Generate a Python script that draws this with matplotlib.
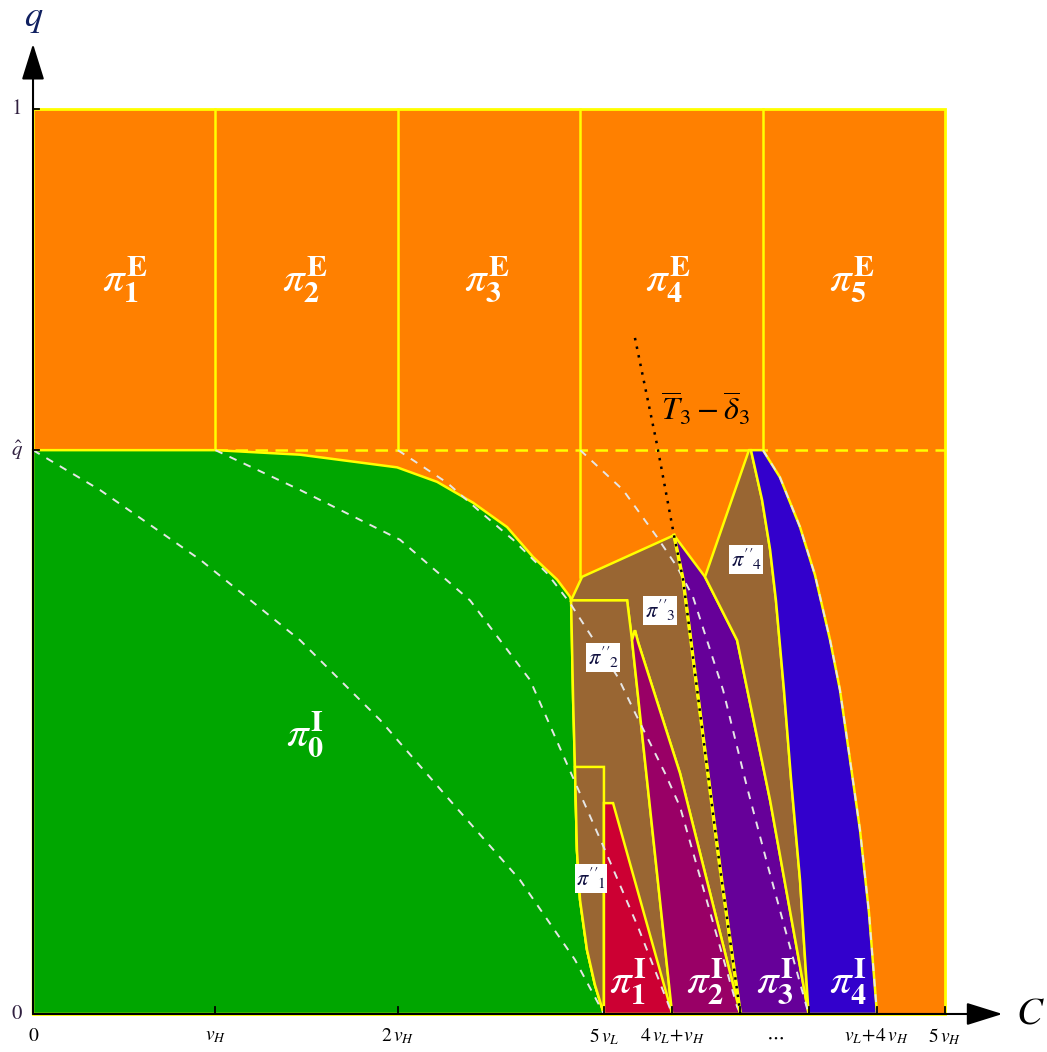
import numpy as np
import matplotlib.pyplot as plt
from matplotlib.patches import Polygon

plt.rcParams['mathtext.fontset'] = 'stix'
plt.rcParams['font.family'] = 'STIXGeneral'

# model parameters (vH = 1)
v_H = 1.0
v_L = 0.626
q_hat = 0.623

# axis ticks
x_ticks = [0, 1, 2, 3.13, 3.504, 3.878, 4.252, 4.626, 5]
x_tick_labels = ['0', r'$v_H$', r'$2\,v_H$', r'$5\,v_L$', r'$4\,v_L\!+\!v_H$', '', '', r'$v_L\!+\!4\,v_H$', r'$5\,v_H$']
y_ticks = [0, q_hat, 1]
y_tick_labels = ['0', r'$\hat{q}$', '1']

# region boundaries, (C, q) pairs
green_region = [(0, 0), (0, q_hat), (1.0, q_hat), (1.464, 0.618), (1.996, 0.604),
                (2.215, 0.588), (2.412, 0.565), (2.599, 0.538), (2.741, 0.505),
                (2.873, 0.480), (2.944, 0.461), (2.950, 0.457), (2.961, 0.347),
                (2.971, 0.273), (2.982, 0.181), (2.999, 0.126), (3.037, 0.071),
                (3.081, 0.032), (3.13, 0)]
pp3_region = [(2.950, 0.457), (3.01, 0.483), (3.514, 0.529), (3.564, 0.480),
              (3.657, 0.333), (3.766, 0.162), (3.878, 0), (3.547, 0.266),
              (3.317, 0.411), (3.30, 0.424), (3.284, 0.413), (3.257, 0.457)]
pp2_region = [(2.950, 0.457), (3.257, 0.457), (3.284, 0.413), (3.504, 0),
              (3.13, 0), (3.081, 0.032), (3.037, 0.071), (2.999, 0.126),
              (2.982, 0.181), (2.971, 0.273), (2.961, 0.347)]
pp1_region = [(2.971, 0.273), (3.13, 0.273), (3.13, 0), (3.081, 0.032),
              (3.037, 0.071), (2.999, 0.126), (2.982, 0.181)]
i1_region = [(3.13, 0), (3.13, 0.233), (3.18, 0.233), (3.504, 0)]
i2_region = [(3.284, 0.413), (3.30, 0.424), (3.317, 0.411), (3.547, 0.266),
             (3.878, 0), (3.504, 0)]
i3_region = [(3.514, 0.529), (3.684, 0.483), (3.860, 0.413), (4.041, 0.236),
             (4.252, 0), (3.878, 0), (3.766, 0.162), (3.657, 0.333), (3.564, 0.480)]
pp4_region = [(3.684, 0.483), (3.925, q_hat), (3.936, q_hat), (3.997, 0.568),
              (4.041, 0.513), (4.073, 0.457), (4.117, 0.358), (4.156, 0.259),
              (4.205, 0.148), (4.252, 0), (4.041, 0.236), (3.860, 0.413)]
i4_region = [(3.936, q_hat), (4.002, q_hat), (4.095, 0.593), (4.205, 0.538),
             (4.287, 0.485), (4.370, 0.413), (4.424, 0.358), (4.479, 0.281),
             (4.534, 0.203), (4.583, 0.112), (4.627, 0), (4.252, 0), (4.205, 0.148),
             (4.156, 0.259), (4.117, 0.358), (4.073, 0.457), (4.041, 0.513),
             (3.997, 0.568)]

# threshold curves starting at (k vH, q_hat)
iso_0 = [(0, q_hat), (0.367, 0.579), (0.916, 0.502), (1.464, 0.413), (1.902, 0.325),
         (2.286, 0.236), (2.670, 0.148), (2.971, 0.060), (3.13, 0)]
iso_1 = [(1, q_hat), (1.464, 0.579), (2.012, 0.524), (2.396, 0.457), (2.725, 0.369),
         (2.917, 0.281), (3.136, 0.181), (3.317, 0.096), (3.504, 0)]
iso_2 = [(2, q_hat), (2.083, 0.612), (2.27, 0.587), (2.451, 0.555), (2.632, 0.524),
         (2.818, 0.487), (2.944, 0.454), (3.207, 0.372), (3.30, 0.333),
         (3.465, 0.266), (3.547, 0.229), (3.86, 0.008), (3.878, 0)]
iso_3 = [(3, q_hat), (3.235, 0.579), (3.421, 0.527), (3.531, 0.494), (3.618, 0.461),
         (3.783, 0.358), (3.914, 0.251), (4.024, 0.167), (4.150, 0.074), (4.252, 0)]
iso_4 = [(4.002, q_hat), (4.095, 0.593), (4.205, 0.538), (4.287, 0.485),
         (4.370, 0.413), (4.424, 0.358), (4.479, 0.281), (4.534, 0.203),
         (4.583, 0.112), (4.627, 0)]

# T3 - delta3 line
t3_line = [(3.30, 0.747), (3.421, 0.629), (3.514, 0.529), (3.564, 0.480),
           (3.657, 0.333), (3.766, 0.162), (3.878, 0)]

ORANGE = '#FF8000'
GREEN = '#00A600'
BROWN = '#996633'
RED = '#CC0033'
MAGENTA = '#990066'
PURPLE = '#660099'
BLUE = '#3300CC'
YELLOW = '#FFFF00'
DASH = '#E6E6E6'

fig = plt.figure(figsize=(10.47, 10.52), dpi=100)
ax = fig.add_axes([0, 0, 1, 1])
ax.set_xlim(-0.181, 5.559)
ax.set_ylim(-0.042, 1.1204)
ax.axis('off')

ax.add_patch(Polygon([(0, 0), (0, 1), (5, 1), (5, 0)], closed=True,
                     facecolor=ORANGE, edgecolor=YELLOW, lw=2, zorder=1))
for xv in [1, 2, 4]:
    ax.plot([xv, xv], [q_hat, 1], color=YELLOW, lw=1.8, zorder=2)
ax.plot([3, 3], [0.483, 1], color=YELLOW, lw=1.8, zorder=2)
ax.plot([1, 5], [q_hat, q_hat], color=YELLOW, lw=1.8, ls=(0, (5, 3)), zorder=2)

regions = [(green_region, GREEN), (pp3_region, BROWN), (pp2_region, BROWN),
           (pp1_region, BROWN), (i1_region, RED), (i2_region, MAGENTA),
           (i3_region, PURPLE), (pp4_region, BROWN), (i4_region, BLUE)]
for pts, col in regions:
    ax.add_patch(Polygon(pts, closed=True, facecolor=col, edgecolor=YELLOW,
                         lw=1.8, joinstyle='miter', zorder=3))

for curve in [iso_0, iso_1, iso_2, iso_3, iso_4]:
    c = np.array(curve)
    ax.plot(c[:, 0], c[:, 1], color=DASH, lw=1.4, ls=(0, (4, 4)), zorder=4)

t3 = np.array(t3_line)
ax.plot(t3[2:, 0], t3[2:, 1], color=YELLOW, lw=2.4, zorder=4)
ax.plot(t3[:, 0], t3[:, 1], color='black', lw=1.8, ls=(0, (1, 2.5)), zorder=5)
ax.text(3.684, 0.668, r'$\overline{T}_3 - \overline{\delta}_3$', fontsize=23,
        ha='center', va='center', zorder=6)

# region labels
big_labels = [(0.504, 0.811, 'E', '1'), (1.49, 0.811, 'E', '2'), (2.49, 0.811, 'E', '3'),
              (3.48, 0.811, 'E', '4'), (4.49, 0.811, 'E', '5'), (1.491, 0.308, 'I', '0'),
              (3.262, 0.036, 'I', '1'), (3.684, 0.036, 'I', '2'), (4.068, 0.036, 'I', '3'),
              (4.468, 0.036, 'I', '4')]
for x, y, sup, sub in big_labels:
    ax.text(x, y, r'$\pi^{\mathbf{%s}}_{\mathbf{%s}}$' % (sup, sub), color='white',
            fontsize=31, ha='center', va='center', zorder=6)

small_labels = [(3.059, 0.150, '1'), (3.125, 0.394, '2'), (3.438, 0.446, '3'),
                (3.909, 0.502, '4')]
for x, y, sub in small_labels:
    ax.text(x, y, r"$\pi''_{\!%s}$" % sub, color='#101040', fontsize=16, ha='center',
            va='center', zorder=6,
            bbox=dict(boxstyle='square,pad=0.08', facecolor='white', edgecolor='none'))

# axes with arrows
ax.annotate('', xy=(5.33, 0), xytext=(-0.01, 0),
            arrowprops=dict(arrowstyle='-|>,head_length=0.8,head_width=0.25',
                            color='black', lw=1.5, mutation_scale=28), zorder=7)
ax.annotate('', xy=(0, 1.075), xytext=(0, -0.002),
            arrowprops=dict(arrowstyle='-|>,head_length=0.8,head_width=0.25',
                            color='black', lw=1.5, mutation_scale=28), zorder=7)
ax.text(5.47, 0.0, r'$C$', fontsize=28, ha='center', va='center')
ax.text(0.005, 1.100, r'$q$', fontsize=26, ha='center', va='center', color='#102060')

for xv, lab in zip(x_ticks, x_tick_labels):
    ax.plot([xv, xv], [0, 0.008], color='black', lw=1.3, zorder=7)
    ax.text(xv, -0.025, lab, fontsize=14, ha='center', va='center')
ax.text(4.07, -0.025, r'$\cdots$', fontsize=14, ha='center', va='center')
for yv, lab in zip(y_ticks, y_tick_labels):
    ax.plot([0, 0.035], [yv, yv], color='black', lw=1.3, zorder=7)
    ax.text(-0.09, yv, lab, fontsize=15, ha='center', va='center', color='#302040')

fig.savefig('out.png', dpi=100)
